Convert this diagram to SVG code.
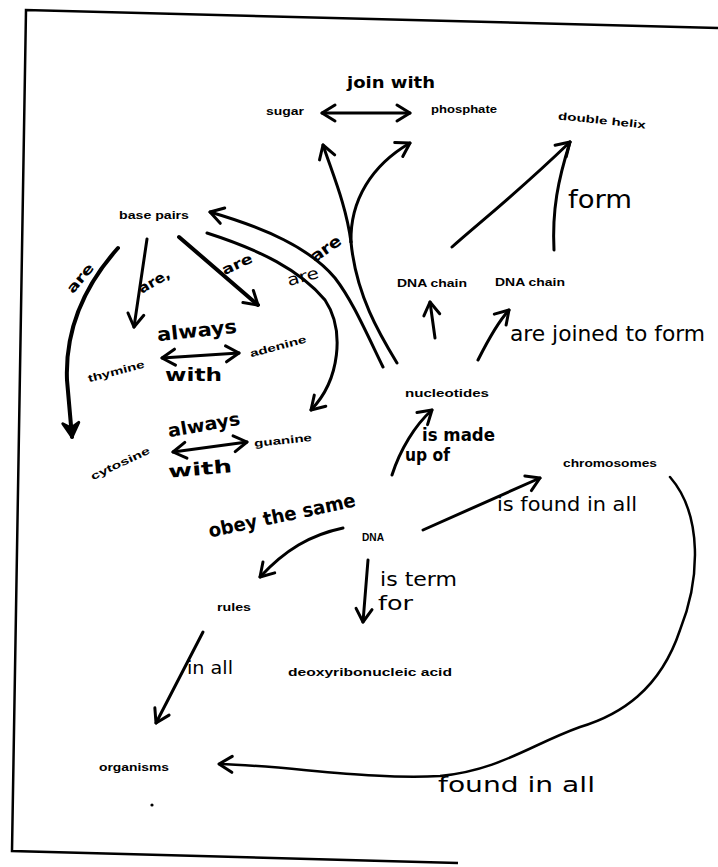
<svg xmlns="http://www.w3.org/2000/svg" width="718" height="867" viewBox="0 0 718 867">
<defs>
<style>
.n { font-family: "Liberation Sans", Arial, sans-serif; font-weight: bold; font-size: 10.5px; fill: #000; text-anchor: middle; }
.h { font-family: "DejaVu Sans", sans-serif; font-size: 18px; fill: #000; }
.hb { font-weight: bold; }
.m { text-anchor: middle; }
.c { fill: none; stroke: #000; stroke-width: 3; stroke-linecap: round; stroke-linejoin: round; }
.e { marker-end: url(#ah); }
.b { marker-start: url(#ah); marker-end: url(#ah); }
</style>
<marker id="ah" viewBox="-16 -11 20 22" refX="0" refY="0" markerWidth="20" markerHeight="22" markerUnits="userSpaceOnUse" orient="auto-start-reverse" overflow="visible">
<path d="M-13,-8 L0,0 L-13,8" fill="none" stroke="#000" stroke-width="3" stroke-linecap="round" stroke-linejoin="round"/>
</marker>
<marker id="ahf" viewBox="-16 -11 20 22" refX="0" refY="0" markerWidth="20" markerHeight="22" markerUnits="userSpaceOnUse" orient="auto" overflow="visible">
<path d="M-14,-8 L0,0 L-14,8 L-9,0 Z" fill="#000" stroke="#000" stroke-width="3" stroke-linejoin="round"/>
</marker>
</defs>
<rect width="718" height="867" fill="#fff"/>
<path id="border" d="M718,28 L26,10 L12,851 L458,863" fill="none" stroke="#000" stroke-width="2.5"/>

<g id="connectors">
<path class="c b" d="M322,113 L410,113"/>
<path class="c" d="M397,363 C380,335 356,295 351,242"/>
<path class="c e" d="M351,242 C346,205 333,175 323,145"/>
<path class="c e" d="M351,242 C350,200 372,165 410,143"/>
<path class="c e" d="M383,367 C365,330 352,300 335,278 C310,248 265,228 210,212"/>
<path class="c e" d="M207,233 C260,250 300,270 325,300 C345,330 340,380 311,410"/>
<path class="c" style="stroke-width:4;marker-end:url(#ahf)" d="M118,248 C85,285 65,330 67,380 L72,437"/>
<path class="c e" d="M147,239 L134,327"/>
<path class="c e" style="stroke-width:4" d="M179,237 L258,305"/>
<path class="c b" d="M162,358 L239,353"/>
<path class="c b" d="M173,452 L247,442"/>
<path class="c e" d="M452,247 C480,222 515,195 570,142"/>
<path class="c" d="M554,250 C552,210 558,180 570,142"/>
<path class="c e" d="M435,338 L430,302"/>
<path class="c e" d="M478,360 C488,340 498,322 509,310"/>
<path class="c e" d="M392,475 C400,450 415,425 432,410"/>
<path class="c e" d="M423,530 L540,478"/>
<path class="c e" d="M343,528 C310,535 285,550 260,577"/>
<path class="c e" d="M368,560 L363,622"/>
<path class="c e" d="M203,632 L156,723"/>
<path class="c e" style="stroke-width:2.5" d="M670,477 C703,515 700,580 680,630 C660,690 620,715 580,727 C530,745 500,770 440,776 C370,780 290,766 219,764"/>

<text class="h hb" x="347" y="88" textLength="88" lengthAdjust="spacingAndGlyphs" style="font-size:16px">join with</text>
<text class="h" x="568" y="208" textLength="64" lengthAdjust="spacingAndGlyphs" style="font-size:24px">form</text>
<text class="h" x="510" y="341" textLength="195" lengthAdjust="spacingAndGlyphs" style="font-size:21px">are joined to form</text>
<text class="h hb" x="422" y="441" textLength="73" lengthAdjust="spacingAndGlyphs" style="font-size:17px">is made</text>
<text class="h hb" x="405" y="461" textLength="45" lengthAdjust="spacingAndGlyphs" style="font-size:17px">up of</text>
<text class="h" x="497" y="511" textLength="140" lengthAdjust="spacingAndGlyphs" style="font-size:19px">is found in all</text>
<text class="h hb m" x="282" y="522" textLength="150" lengthAdjust="spacingAndGlyphs" transform="rotate(-12 282 516)" style="font-size:19px">obey the same</text>
<text class="h" x="380" y="586" textLength="77" lengthAdjust="spacingAndGlyphs" style="font-size:19px">is term</text>
<text class="h" x="378" y="610" textLength="35" lengthAdjust="spacingAndGlyphs" style="font-size:19px">for</text>
<text class="h" x="187" y="674" textLength="46" lengthAdjust="spacingAndGlyphs" style="font-size:18px">in all</text>
<text class="h" x="438" y="792" textLength="157" lengthAdjust="spacingAndGlyphs" style="font-size:21px">found in all</text>
<text class="h hb m" x="197" y="337" textLength="80" lengthAdjust="spacingAndGlyphs" transform="rotate(-6 197 331)" style="font-size:19px">always</text>
<text class="h hb" x="165" y="381" textLength="57" lengthAdjust="spacingAndGlyphs" style="font-size:18px">with</text>
<text class="h hb m" x="204" y="431" textLength="73" lengthAdjust="spacingAndGlyphs" transform="rotate(-10 204 425)" style="font-size:18px">always</text>
<text class="h hb" x="168" y="475" textLength="64" lengthAdjust="spacingAndGlyphs" transform="rotate(-5 200 468)" style="font-size:18px">with</text>
<text class="h hb m" x="80" y="283" textLength="34" lengthAdjust="spacingAndGlyphs" transform="rotate(-50 80 278)" style="font-size:14px">are</text>
<text class="h hb m" x="154" y="286" textLength="34" lengthAdjust="spacingAndGlyphs" transform="rotate(-30 154 281)" style="font-size:14px">are,</text>
<text class="h hb m" x="237" y="269" textLength="32" lengthAdjust="spacingAndGlyphs" transform="rotate(-25 237 264)" style="font-size:14px">are</text>
<text class="h hb m" x="326" y="254" textLength="34" lengthAdjust="spacingAndGlyphs" transform="rotate(-35 326 249)" style="font-size:16px">are</text>
<text class="h m" x="303" y="282" textLength="32" lengthAdjust="spacingAndGlyphs" transform="rotate(-15 303 277)" style="font-size:16px">are</text>
</g>

<g id="sugar"><text class="n" x="285" y="115" textLength="38" lengthAdjust="spacingAndGlyphs">sugar</text></g>
<g id="phosphate"><text class="n" x="464" y="113" textLength="66" lengthAdjust="spacingAndGlyphs">phosphate</text></g>
<g id="double-helix"><text class="n" x="602" y="124" textLength="88" lengthAdjust="spacingAndGlyphs" transform="rotate(6 602 120)">double helix</text></g>
<g id="base-pairs"><text class="n" x="154" y="219" textLength="70" lengthAdjust="spacingAndGlyphs">base pairs</text></g>
<g id="dna-chain-1"><text class="n" x="432" y="287" textLength="70" lengthAdjust="spacingAndGlyphs">DNA chain</text></g>
<g id="dna-chain-2"><text class="n" x="530" y="286" textLength="70" lengthAdjust="spacingAndGlyphs">DNA chain</text></g>
<g id="thymine"><text class="n" x="116" y="375" textLength="58" lengthAdjust="spacingAndGlyphs" transform="rotate(-15 116 371)">thymine</text></g>
<g id="adenine"><text class="n" x="278" y="350" textLength="58" lengthAdjust="spacingAndGlyphs" transform="rotate(-15 278 346)">adenine</text></g>
<g id="nucleotides"><text class="n" x="447" y="397" textLength="84" lengthAdjust="spacingAndGlyphs">nucleotides</text></g>
<g id="cytosine"><text class="n" x="120" y="467" textLength="64" lengthAdjust="spacingAndGlyphs" transform="rotate(-25 120 463)">cytosine</text></g>
<g id="guanine"><text class="n" x="283" y="444" textLength="58" lengthAdjust="spacingAndGlyphs" transform="rotate(-6 283 440)">guanine</text></g>
<g id="chromosomes"><text class="n" x="610" y="467" textLength="94" lengthAdjust="spacingAndGlyphs">chromosomes</text></g>
<g id="dna"><text class="n" x="373" y="541" textLength="22" lengthAdjust="spacingAndGlyphs">DNA</text></g>
<g id="rules"><text class="n" x="234" y="611" textLength="34" lengthAdjust="spacingAndGlyphs">rules</text></g>
<g id="deoxyribonucleic-acid"><text class="n" x="370" y="676" textLength="164" lengthAdjust="spacingAndGlyphs">deoxyribonucleic acid</text></g>
<g id="organisms"><text class="n" x="134" y="771" textLength="70" lengthAdjust="spacingAndGlyphs">organisms</text></g>
<circle cx="152" cy="805" r="1.6" fill="#000"/>
</svg>
